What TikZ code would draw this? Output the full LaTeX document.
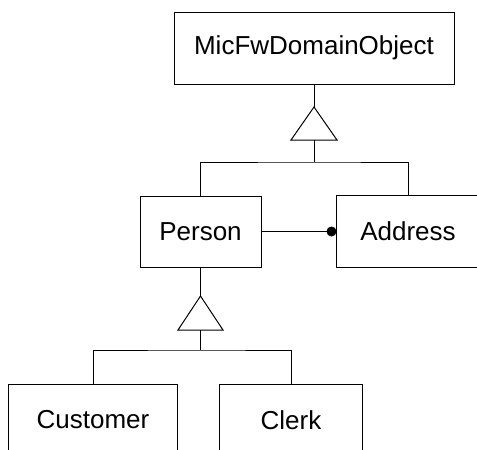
\documentclass[tikz,border=0pt]{standalone}
\usepackage{fontspec}
\setmainfont{Liberation Sans}
\begin{document}
\begin{tikzpicture}[x=1pt,y=-1pt,
  line width=1pt,
  classbox/.style={draw, rectangle, inner sep=0pt, anchor=center,
    font=\fontsize{26}{30}\selectfont},
  openbox/.style={classbox, draw=none},
  link/.style={draw},
  inherit/.style={draw, fill=white, line join=miter}]
\useasboundingbox (0,0) rectangle (477,450);

% classes
\node[classbox, minimum width=280pt, minimum height=72pt] (domain) at (314,48) {MicFwDomainObject};
\node[classbox, minimum width=121pt, minimum height=71pt] (person) at (200.5,231.5) {Person};
\node[openbox, minimum width=142pt, minimum height=71pt] (address) at (408,231.5) {Address};
\draw ([xshift=20pt]address.north east) -- (address.north west)
  -- (address.south west) -- ([xshift=20pt]address.south east);
\node[classbox, minimum width=169.5pt, minimum height=72pt] (customer) at (93,420) {Customer};
\node[classbox, minimum width=143.5pt, minimum height=72pt] (clerk) at (291,420) {Clerk};

% upper generalization: Person, Address -> MicFwDomainObject
\coordinate (t1apex) at (314,107);
\coordinate (t1left) at (291,140);
\coordinate (t1right) at (337,140);
\coordinate (t1base) at (314,140);
\coordinate (bar1) at (314,162);
\draw[link] (domain.south) -- (t1apex);
\draw[inherit] (t1apex) -- (t1left) -- (t1right) -- cycle;
\draw[link] (t1base) -- (bar1);
\draw[link] (person.north) |- (bar1) -| (address.north);

% association Person -> Address, filled dot at the Address end
\coordinate (dot) at ([xshift=-5pt]address.west);
\draw[link] (person.east) -- (dot);
\fill (dot) circle (5pt);

% lower generalization: Customer, Clerk -> Person
\coordinate (t2apex) at (200.5,296);
\coordinate (t2left) at (178,330);
\coordinate (t2right) at (223,330);
\coordinate (t2base) at (200.5,330);
\coordinate (bar2) at (200.5,350);
\draw[link] (person.south) -- (t2apex);
\draw[inherit] (t2apex) -- (t2left) -- (t2right) -- cycle;
\draw[link] (t2base) -- (bar2);
\draw[link] (customer.north) |- (bar2) -| (clerk.north);
\end{tikzpicture}
\end{document}
